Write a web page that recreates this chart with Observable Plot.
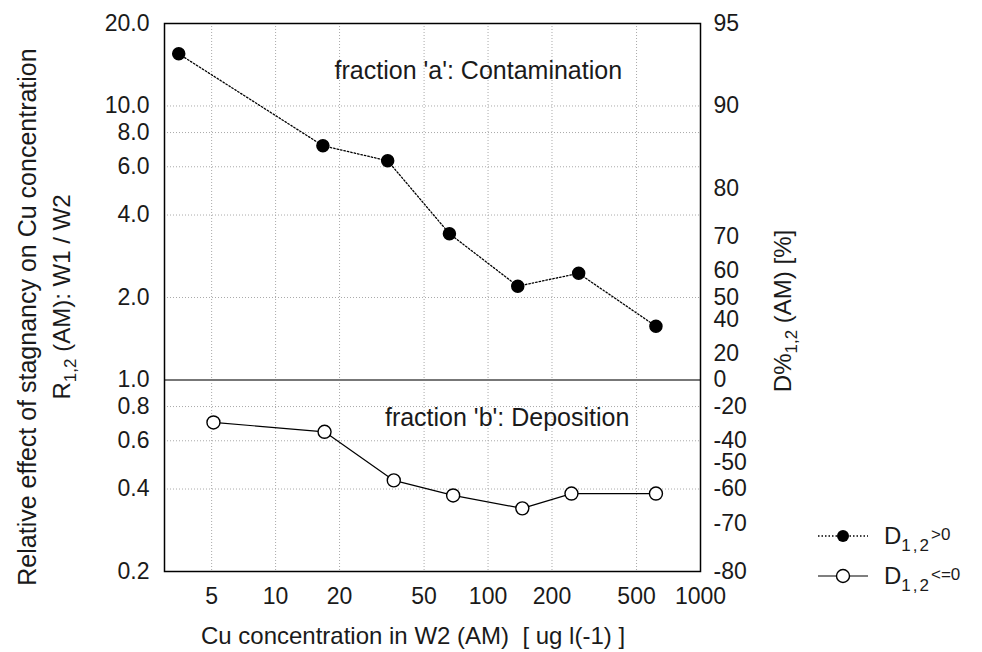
<!DOCTYPE html>
<html><head><meta charset="utf-8">
<script src="https://cdn.jsdelivr.net/npm/d3@7"></script>
<script src="https://cdn.jsdelivr.net/npm/@observablehq/plot@0.6"></script>
<style>
body{margin:0;background:#fff;}
#wrap{position:relative;width:982px;height:652px;font-family:"Liberation Sans",Arial,sans-serif;color:#1a1a1a;overflow:hidden;}
.lab{position:absolute;white-space:nowrap;font-size:24px;line-height:1;}
.rot{transform:translate(-50%,-50%) rotate(-90deg);}
.lab sub{font-size:17px;vertical-align:-6px;line-height:0;}
.leg{position:absolute;left:816px;font-size:24px;line-height:1;white-space:nowrap;display:flex;align-items:center;}
.leg svg{margin-right:14px;}
.leg sub{font-size:17px;vertical-align:-7px;line-height:0;letter-spacing:2px;}
.leg sup{font-size:17px;vertical-align:4px;line-height:0;}
</style></head><body><div id="wrap"></div>
<script>
// Series D1,2 > 0 (fraction 'a': contamination)
const posX = [3.5, 16.7, 33.7, 65.8, 138, 267, 617];
const posR = [15.5, 7.16, 6.31, 3.42, 2.2, 2.45, 1.57];
// Series D1,2 <= 0 (fraction 'b': deposition)
const negX = [5.1, 17, 36, 68.5, 145, 247, 617];
const negR = [0.70, 0.647, 0.43, 0.379, 0.34, 0.385, 0.385];
// Tick values
const xTicks = [5, 10, 20, 50, 100, 200, 500, 1000];
const yTicks = [0.2, 0.4, 0.6, 0.8, 1, 2, 4, 6, 8, 10, 20];
const dTicks = [95, 90, 80, 70, 60, 50, 40, 20, 0, -20, -40, -50, -60, -70, -80];
// Annotations
const annText = ["fraction 'a': Contamination", "fraction 'b': Deposition"];
const annX = [90, 123];
const annY = [13.4, 0.727];

const dToR = d => d >= 0 ? 100 / (100 - d) : 1 + d / 100;
const rTicks = dTicks.map(dToR);
const dLabel = new Map(rTicks.map((r, i) => [r, String(dTicks[i])]));

const pos = posX.map((x, i) => ({x, r: posR[i]}));
const neg = negX.map((x, i) => ({x, r: negR[i]}));
const ann = annText.map((t, i) => ({t, x: annX[i], y: annY[i]}));

const chart = Plot.plot({
  width: 982, height: 652,
  marginLeft: 164, marginRight: 282, marginTop: 23, marginBottom: 81,
  x: {type: "log", domain: [3, 1000]},
  y: {type: "log", domain: [0.2, 20]},
  style: {fontFamily: "'Liberation Sans', Arial, sans-serif", fontSize: "23px", color: "#1a1a1a", background: "white"},
  marks: [
    Plot.gridX(xTicks.filter(d => d < 1000), {stroke: "#aaa", strokeOpacity: 1, strokeDasharray: "1,2"}),
    Plot.gridY(yTicks.filter(d => d !== 1 && d !== 20 && d !== 0.2), {stroke: "#aaa", strokeOpacity: 1, strokeDasharray: "1,2"}),
    Plot.ruleY([1], {stroke: "#777", strokeWidth: 2}),
    Plot.axisX(xTicks, {tickSize: 0, tickPadding: 16, text: d => String(d), label: null, fontSize: 23}),
    Plot.axisY(yTicks, {anchor: "left", tickSize: 0, tickPadding: 15, text: d => d.toFixed(1), label: null, fontSize: 23}),
    Plot.axisY(rTicks, {anchor: "right", tickSize: 0, tickPadding: 13, text: d => dLabel.get(d), label: null, fontSize: 23}),
    Plot.frame({stroke: "black", strokeWidth: 1.5}),
    Plot.line(pos, {x: "x", y: "r", stroke: "black", strokeWidth: 1.3, strokeDasharray: "1.5,2"}),
    Plot.dot(pos, {x: "x", y: "r", r: 6, fill: "black", stroke: "black"}),
    Plot.line(neg, {x: "x", y: "r", stroke: "black", strokeWidth: 1.2}),
    Plot.dot(neg, {x: "x", y: "r", r: 6.5, fill: "white", stroke: "black", strokeWidth: 1.4}),
    Plot.text(ann, {x: "x", y: "y", text: "t", fontSize: 25, textAnchor: "middle", fill: "#1a1a1a"})
  ]
});

const wrap = document.getElementById("wrap");
wrap.appendChild(chart);

function addLabel(html, x, y, rot, size) {
  const d = document.createElement("div");
  d.className = "lab" + (rot ? " rot" : "");
  d.innerHTML = html;
  d.style.left = x + "px";
  d.style.top = y + "px";
  if (size) d.style.fontSize = size + "px";
  if (!rot) d.style.transform = "translate(-50%,-50%)";
  wrap.appendChild(d);
}
addLabel("Relative effect of stagnancy on Cu concentration", 27, 317, true, 25);
addLabel("R<sub>1,2</sub> (AM): W1 / W2", 62, 297, true, 24);
addLabel("D%<sub>1,2</sub> (AM) [%]", 783, 311, true, 24);
addLabel("Cu concentration in W2 (AM)&nbsp; [ ug l(-1) ]", 413, 636, false, 24);

function addLegend(y, filled, txt) {
  const d = document.createElement("div");
  d.className = "leg";
  d.style.top = (y - 14) + "px";
  const line = filled
    ? '<line x1="2" y1="14" x2="52" y2="14" stroke="black" stroke-width="1.3" stroke-dasharray="1.5,2"/><circle cx="27" cy="14" r="6" fill="black"/>'
    : '<line x1="2" y1="14" x2="52" y2="14" stroke="black" stroke-width="1.2"/><circle cx="27" cy="14" r="6.5" fill="white" stroke="black" stroke-width="1.4"/>';
  d.innerHTML = '<svg width="54" height="28">' + line + '</svg><span>D<sub>1,2</sub><sup>' + txt + '</sup></span>';
  wrap.appendChild(d);
}
addLegend(536, true, "&gt;0");
addLegend(576, false, "&lt;=0");
</script>
</body></html>
